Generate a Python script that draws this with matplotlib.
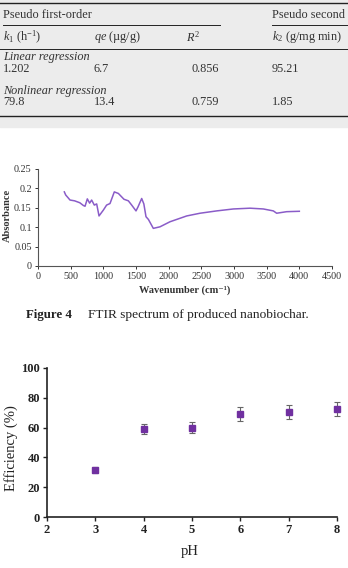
import numpy as np
import matplotlib.pyplot as plt
from matplotlib.patches import Rectangle
from matplotlib.lines import Line2D

plt.rcParams['font.family'] = ['Liberation Serif', 'DejaVu Serif']
plt.rcParams['mathtext.fontset'] = 'custom'
plt.rcParams['mathtext.rm'] = 'Liberation Serif'
plt.rcParams['mathtext.it'] = 'Liberation Serif:italic'

# Table fragment
col_heads = ['$k_1$ (h$^{-1}$)', '$qe$ (\u00b5g/g)', '$R^2$', '$k_2$ (g/mg min)']
linear_row = ['1.202', '6.7', '0.856', '95.21']
nonlinear_row = ['79.8', '13.4', '0.759', '1.85']

# FTIR spectrum
wavenumber = [403, 424, 460, 490, 560, 640, 694, 720, 755, 790, 821, 862, 898, 934,
              1000, 1050, 1102, 1168, 1230, 1316, 1383, 1434, 1500, 1530, 1587, 1620,
              1653, 1690, 1765, 1867, 2020, 2276, 2480, 2735, 2990, 3245, 3449, 3602,
              3653, 3806, 4000]
absorbance = [0.191, 0.183, 0.176, 0.170, 0.168, 0.163, 0.156, 0.154, 0.173, 0.162,
              0.170, 0.157, 0.160, 0.129, 0.144, 0.157, 0.161, 0.191, 0.187, 0.172,
              0.168, 0.157, 0.142, 0.152, 0.174, 0.160, 0.127, 0.120, 0.097, 0.101,
              0.114, 0.129, 0.136, 0.142, 0.147, 0.149, 0.147, 0.142, 0.136, 0.140,
              0.141]

# pH effect
ph = [3, 4, 5, 6, 7, 8]
efficiency = [31.5, 59, 60, 69, 70.5, 72.5]
eff_err = [2, 3.5, 3.5, 4.5, 4.5, 4.5]

W, H = 348, 568
fig = plt.figure(figsize=(W / 100, H / 100), dpi=100)

def fx(px):
    return px / W

def fy(py):
    return 1 - py / H

# gray table background and rules
fig.patches.append(Rectangle((0, fy(127)), 1, 127 / H, transform=fig.transFigure,
                             color='#ececec', zorder=0))
for x0, x1, y, lw in [(0, 348, 3, 1.0), (3, 220, 25, 0.7), (272, 348, 25, 0.7),
                      (0, 348, 49, 0.7), (0, 348, 116, 1.0)]:
    fig.lines.append(Line2D([fx(x0), fx(x1)], [fy(y), fy(y)], transform=fig.transFigure,
                            color='#222222', lw=lw))

ts = 8.8
tc = '#333333'
fig.text(fx(3), fy(15), 'Pseudo first-order', fontsize=ts, va='center', color=tc)
fig.text(fx(272), fy(15), 'Pseudo second', fontsize=ts, va='center', color=tc)
col_x = [3, 94, 186, 272]
for x, t in zip(col_x, col_heads):
    fig.text(fx(x), fy(37), t, fontsize=ts, va='center', color=tc)
fig.text(fx(3), fy(57), 'Linear regression', fontsize=ts, va='center', style='italic', color=tc)
fig.text(fx(3), fy(91), 'Nonlinear regression', fontsize=ts, va='center', style='italic', color=tc)
val_x = [3, 94, 192, 272]
for x, t in zip(val_x, linear_row):
    fig.text(fx(x), fy(69), t, fontsize=ts, va='center', color=tc)
for x, t in zip(val_x, nonlinear_row):
    fig.text(fx(x), fy(102), t, fontsize=ts, va='center', color=tc)

# FTIR plot
ax1 = fig.add_axes([fx(38), fy(266), 294 / W, 97 / H])
ax1.plot(wavenumber, absorbance, color='#8a5cc8', lw=1.1)
ax1.set_xlim(0, 4500)
ax1.set_ylim(0, 0.25)
ax1.set_xticks(range(0, 4501, 500))
ax1.set_yticks([0, 0.05, 0.1, 0.15, 0.2, 0.25])
ax1.set_yticklabels(['0', '0.05', '0.1', '0.15', '0.2', '0.25'])
ax1.tick_params(labelsize=7.3, length=2.5, width=0.7, pad=2, colors='#333333')
for s in ['top', 'right']:
    ax1.spines[s].set_visible(False)
for s in ['left', 'bottom']:
    ax1.spines[s].set_color('#555555')
    ax1.spines[s].set_linewidth(0.8)
fig.text(fx(185), fy(290), 'Wavenumber (cm\u207b\u00b9)', fontsize=7.5, fontweight='bold',
         ha='center', va='center', color='#333333')
fig.text(fx(7), fy(215), 'Absorbance', fontsize=7.5, fontweight='bold', rotation=90,
         ha='center', va='center', color='#333333')

fig.text(fx(26), fy(315), 'Figure 4', fontsize=9.3, fontweight='bold', va='center', color='#222222')
fig.text(fx(88), fy(315), 'FTIR spectrum of produced nanobiochar.', fontsize=9.6,
         va='center', color='#222222')

# pH plot
ax2 = fig.add_axes([fx(47), fy(517), 290 / W, 149 / H])
ax2.errorbar(ph, efficiency, yerr=eff_err, fmt='s', color='#7030a0', ms=4,
             ecolor='#666666', elinewidth=0.8, capsize=2, capthick=0.8)
ax2.set_xlim(2, 8)
ax2.set_ylim(0, 100)
ax2.set_xticks(range(2, 9))
ax2.set_yticks(range(0, 101, 20))
ax2.tick_params(labelsize=9, length=3, width=1, pad=2, colors='#222222')
for lab in ax2.get_xticklabels() + ax2.get_yticklabels():
    lab.set_fontweight('bold')
for s in ['top', 'right']:
    ax2.spines[s].set_visible(False)
for s in ['left', 'bottom']:
    ax2.spines[s].set_linewidth(1.2)
    ax2.spines[s].set_color('#222222')
for art in ax2.get_children():
    art.set_clip_on(False)
fig.text(fx(190), fy(551), 'pH', fontsize=10.5, ha='center', va='center', color='#222222')
fig.text(fx(11), fy(448), 'Efficiency (%)', fontsize=10.5, rotation=90,
         ha='center', va='center', color='#222222')

fig.savefig('out.png', dpi=100)
